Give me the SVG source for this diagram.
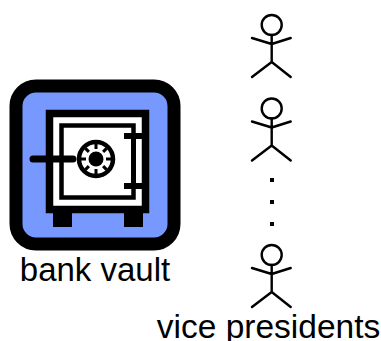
<svg xmlns="http://www.w3.org/2000/svg" width="381" height="341" viewBox="0 0 381 341">
<style>
text{font-family:"Liberation Sans",Arial,sans-serif;font-size:33px;fill:#000;text-anchor:middle}
.p{fill:none;stroke:#000;stroke-width:2.4;stroke-linecap:round;stroke-linejoin:round}
.k{fill:#000}
</style>
<defs>
<g id="person" class="p">
<circle cx="271.7" cy="25" r="10"/>
<path d="M271.7 35V62M252 38L271.7 44L290.7 38M252 77L271.7 62L290.7 77"/>
</g>
</defs>
<rect width="381" height="341" fill="#fff"/>
<g id="vault">
<rect x="16" y="86" width="158" height="158" rx="20" fill="#7799ff" stroke="#000" stroke-width="13"/>
<rect class="k" x="53" y="212" width="19" height="15"/>
<rect class="k" x="124" y="212" width="19" height="15"/>
<rect x="49.500" y="113.500" width="96" height="96" fill="#fff" stroke="#000" stroke-width="7.500"/>
<rect x="61.500" y="125.500" width="72" height="72" fill="#fff" stroke="#000" stroke-width="4.500"/>
<path d="M33 159H73" stroke="#000" stroke-width="7" stroke-linecap="round" fill="none"/>
<rect class="k" x="124" y="133" width="19" height="6"/>
<rect class="k" x="124" y="183" width="19" height="6"/>
<rect class="k" x="131" y="133" width="5" height="56"/>
<circle cx="96" cy="159" r="17" fill="#fff" stroke="#000" stroke-width="4.500"/>
<circle class="k" cx="96" cy="159" r="7.500"/>
<g stroke="#000" stroke-width="3">
<path d="M96 144V149M96 169V174M81 159H86M106 159H111M85.400 148.400L88.900 151.900M103.100 166.100L106.600 169.600M106.600 148.400L103.100 151.900M88.900 166.100L85.400 169.600"/>
</g>
<text x="95" y="280.500">bank vault</text>
</g>
<g id="vp1"><use href="#person"/></g>
<g id="vp2"><use href="#person" y="83.500"/></g>
<g id="ellipsis">
<rect class="k" x="270" y="178" width="4" height="4"/>
<rect class="k" x="270" y="200" width="4" height="4"/>
<rect class="k" x="270" y="222" width="4" height="4"/>
</g>
<g id="vp3"><use href="#person" y="230"/><text x="268.500" y="337.500" style="font-size:33.500px">vice presidents</text></g>
</svg>
